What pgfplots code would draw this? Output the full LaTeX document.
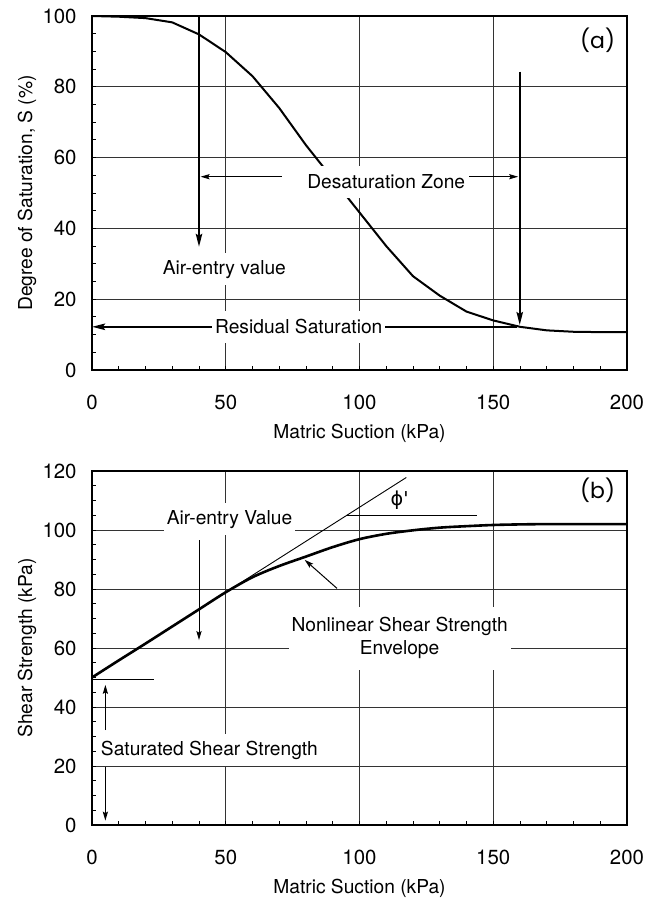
\documentclass[border=0pt]{standalone}
\usepackage{fontspec}
\setmainfont{TeX Gyre Heros}
\newfontfamily\tagfont{Poppins}
\newfontfamily\grkfont{DejaVu Sans}
\usepackage{pgfplots}
\usepackage{pgfplotstable}
\pgfplotsset{compat=1.18}
\usetikzlibrary{arrows.meta}

\newcommand{\fs}{\fontsize{9.6}{11.5}\selectfont}

% degree of saturation vs matric suction
\pgfplotstableread{
x S
0 100
10 99.8
20 99.4
30 98.2
40 94.8
50 89.8
60 83.0
70 74.0
80 63.5
90 54.0
100 44.5
110 35.0
120 26.5
130 21.0
140 16.5
150 14.0
160 12.2
170 11.2
180 10.8
190 10.7
200 10.7
}\satdata

% shear strength vs matric suction
\pgfplotstableread{
x T
0 50.0
10 55.8
20 61.5
30 67.3
40 73.1
50 78.9
60 84.0
70 87.8
80 91.0
90 94.2
100 96.9
110 98.7
120 99.9
130 100.8
140 101.3
150 101.7
160 101.9
170 102.0
180 102.0
190 102.0
200 102.0
}\sheardata

\pgfplotsset{
  panel/.style={
    scale only axis, width=267.5pt, height=177pt,
    xmin=0, xmax=200, xtick={0,50,...,200},
    minor x tick num=4, minor y tick num=3,
    tick pos=left, tick align=inside,
    major tick length=2pt, minor tick length=2pt,
    every tick/.style={black, line width=0.5pt},
    grid=major, grid style={black!80, line width=0.45pt},
    axis line style={line width=0.6pt},
    clip=false,
    /pgf/number format/assume math mode=true,
    tick label style={font=\fontsize{10.2}{12}\selectfont},
    xticklabel style={anchor=center, yshift=-16pt},
    yticklabel style={anchor=east, xshift=-4.2pt},
    label style={font=\fs},
    xlabel style={at={(axis description cs:0.5,-0.178)}, anchor=center},
    ylabel style={at={(axis description cs:-0.1215,0.5)}, anchor=center},
    xlabel={Matric Suction (kPa)},
  },
}
\tikzset{
  lab/.style={fill=white, font=\fs, inner xsep=1.5pt, inner ysep=0pt, minimum height=16pt},
  thickarr/.style={line width=1pt, -{Stealth[length=6.5pt,width=3.2pt,inset=1pt]}},
  thinarr/.style={line width=0.5pt, -{Stealth[length=4.5pt,width=2.6pt,inset=0.8pt]}},
  tag/.style={font=\tagfont\fontsize{11}{13}\selectfont},
}

\begin{document}
\begin{tikzpicture}
\path[use as bounding box] (-46pt,-265pt) rectangle (276.5pt,185pt);

\begin{axis}[panel, at={(0,0)}, anchor=south west,
  ymin=0, ymax=100, ytick={0,20,...,100},
  ylabel={Degree of Saturation, S (\%)}]
\addplot[line width=1pt] table[x=x, y=S] {\satdata};
\draw[thickarr] (40,100) -- (40,34.8);
\draw[thickarr] (159.9,84.3) -- (159.9,12.7);
\draw[line width=1pt, {Stealth[length=6.5pt,width=3.2pt,inset=1pt]}-] (0,12.2) -- (159,12.2);
\draw[thinarr] (71,54.6) -- (40.6,54.6);
\draw[thinarr] (141,54.6) -- (159.3,54.6);
\node[lab] at (49.5,28.5) {Air-entry value};
\node[lab] at (110,53.2) {Desaturation Zone};
\node[lab] at (77.3,12.2) {Residual Saturation};
\node[tag] at (189,93.2) {(a)};
\end{axis}

\begin{axis}[panel, at={(0,-227.5pt)}, anchor=south west,
  ymin=0, ymax=120, ytick={0,20,...,120},
  ylabel={Shear Strength (kPa)}]
\addplot[line width=1.3pt, smooth] table[x=x, y=T] {\sheardata};
\draw[line width=0.45pt] (50,78.9) -- (117.5,117.8);
\draw[line width=0.45pt] (95.4,105) -- (144,105);
\draw[line width=0.45pt] (0,49.4) -- (23.3,49.4);
\draw[thinarr] (40,96.6) -- (40,62.7);
\draw[thinarr] (91.6,80.2) -- (79.5,89.9);
\draw[thinarr] (5,32.2) -- (5,47.5);
\draw[thinarr] (5,19.8) -- (5,1.5);
\node[lab] at (51.4,103.6) {Air-entry Value};
\node[lab, align=center, inner ysep=5.5pt, minimum height=0pt] at (115,63.25) {Nonlinear Shear Strength\\Envelope};
\node[lab] at (43.9,25.4) {Saturated Shear Strength};
\node[font=\grkfont\fontsize{9.6}{11.5}\selectfont] at (115,110.2) {ϕ'};
\node[tag] at (189,113.6) {(b)};
\end{axis}
\end{tikzpicture}
\end{document}
